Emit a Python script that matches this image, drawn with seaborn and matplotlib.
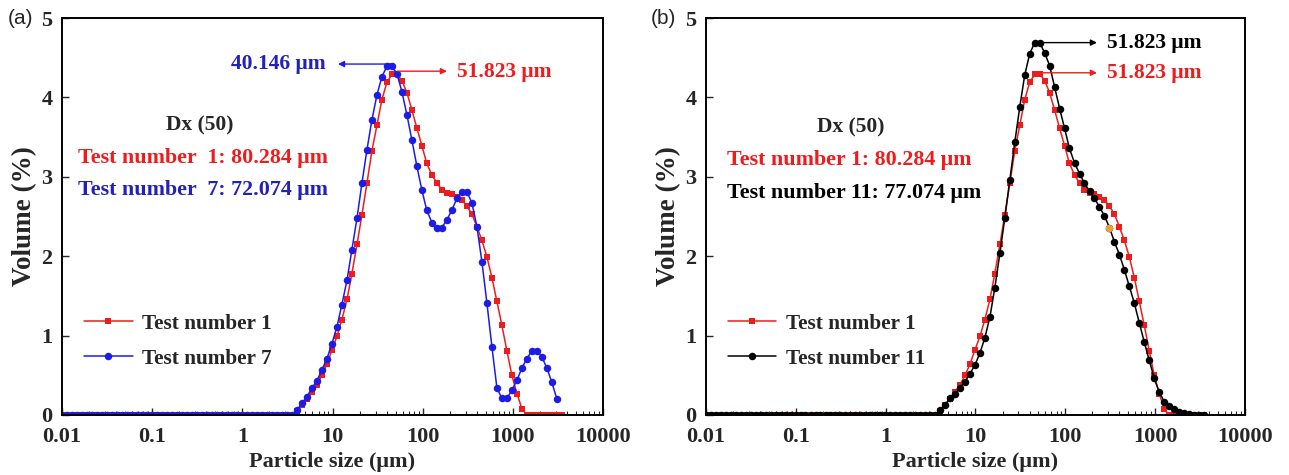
import numpy as np
import pandas as pd
import seaborn as sns
import matplotlib.pyplot as plt

# Particle size classes (um)
sizes = [0.0100, 0.0114, 0.0129, 0.0147, 0.0167, 0.0189, 0.0215, 0.0244, 0.0278, 0.0315,
         0.0358, 0.0407, 0.0463, 0.0526, 0.0597, 0.0679, 0.0771, 0.0876, 0.0995, 0.113,
         0.128, 0.146, 0.166, 0.188, 0.214, 0.243, 0.276, 0.314, 0.357, 0.405,
         0.460, 0.523, 0.594, 0.675, 0.767, 0.872, 0.991, 1.13, 1.28, 1.45,
         1.65, 1.88, 2.13, 2.42, 2.75, 3.12, 3.55, 4.03, 4.58, 5.21,
         5.92, 6.72, 7.64, 8.68, 9.86, 11.2, 12.7, 14.5, 16.4, 18.7,
         21.2, 24.1, 27.4, 31.1, 35.3, 40.1, 45.6, 51.8, 58.9, 66.9,
         76.0, 86.4, 98.1, 111, 127, 144, 163, 186, 211, 240,
         272, 310, 352, 400, 454, 516, 586, 666, 756, 859,
         976, 1110, 1260, 1430, 1630, 1850, 2100, 2390, 2710, 3080,
         3500]

# Volume (%) per class
test1 = [0, 0, 0, 0, 0, 0, 0, 0, 0, 0,
         0, 0, 0, 0, 0, 0, 0, 0, 0, 0,
         0, 0, 0, 0, 0, 0, 0, 0, 0, 0,
         0, 0, 0, 0, 0, 0, 0, 0, 0, 0,
         0, 0, 0, 0, 0, 0, 0, 0.05, 0.12, 0.20,
         0.29, 0.38, 0.50, 0.64, 0.82, 0.99, 1.20, 1.46, 1.78, 2.15,
         2.52, 2.92, 3.33, 3.65, 3.97, 4.19, 4.29, 4.30, 4.21, 4.06,
         3.84, 3.61, 3.39, 3.17, 3.02, 2.92, 2.84, 2.80, 2.78, 2.75,
         2.71, 2.63, 2.53, 2.37, 2.20, 1.99, 1.73, 1.43, 1.13, 0.81,
         0.50, 0.27, 0.08, 0, 0, 0, 0, 0, 0, 0,
         0]

test7 = [0, 0, 0, 0, 0, 0, 0, 0, 0, 0,
         0, 0, 0, 0, 0, 0, 0, 0, 0, 0,
         0, 0, 0, 0, 0, 0, 0, 0, 0, 0,
         0, 0, 0, 0, 0, 0, 0, 0, 0, 0,
         0, 0, 0, 0, 0, 0, 0, 0.06, 0.15, 0.23,
         0.34, 0.43, 0.57, 0.71, 0.90, 1.11, 1.39, 1.70, 2.08, 2.48,
         2.92, 3.34, 3.72, 4.03, 4.26, 4.39, 4.39, 4.30, 4.07, 3.78,
         3.46, 3.13, 2.83, 2.58, 2.42, 2.35, 2.36, 2.46, 2.58, 2.73,
         2.81, 2.81, 2.67, 2.37, 1.93, 1.41, 0.86, 0.34, 0.21, 0.21,
         0.31, 0.44, 0.59, 0.71, 0.81, 0.81, 0.73, 0.59, 0.41, 0.20]

test11 = [0, 0, 0, 0, 0, 0, 0, 0, 0, 0,
          0, 0, 0, 0, 0, 0, 0, 0, 0, 0,
          0, 0, 0, 0, 0, 0, 0, 0, 0, 0,
          0, 0, 0, 0, 0, 0, 0, 0, 0, 0,
          0, 0, 0, 0, 0, 0, 0, 0.06, 0.13, 0.21,
          0.27, 0.34, 0.42, 0.52, 0.63, 0.78, 0.97, 1.24, 1.60, 2.04,
          2.48, 2.96, 3.44, 3.88, 4.28, 4.55, 4.69, 4.69, 4.56, 4.40,
          4.13, 3.86, 3.61, 3.36, 3.17, 3.04, 2.92, 2.82, 2.73, 2.62,
          2.51, 2.36, 2.18, 2.02, 1.83, 1.62, 1.41, 1.16, 0.92, 0.69,
          0.46, 0.29, 0.17, 0.11, 0.07, 0.04, 0.02, 0.01, 0.005, 0,
          0]

tick_vals = [0.01, 0.1, 1, 10, 100, 1000, 10000]
tick_labels = ['0.01', '0.1', '1', '10', '100', '1000', '10000']

RED = '#ee1c1c'
BLUE = '#1c1ce6'
BLUE_TXT = '#2222b8'
BLACK = '#000000'

sns.set_style('ticks')
plt.rcParams['font.family'] = ['Liberation Serif', 'DejaVu Serif']
plt.rcParams['font.weight'] = 'bold'
plt.rcParams['axes.labelweight'] = 'bold'

fig = plt.figure(figsize=(12.89, 4.75), dpi=100)
ax1 = fig.add_axes([62 / 1289, 60 / 475, 541 / 1289, 397 / 475])
ax2 = fig.add_axes([706 / 1289, 60 / 475, 539 / 1289, 397 / 475])

# Panel (a)
sns.lineplot(x=sizes, y=test1, ax=ax1, color=RED, marker='s', markersize=4.8,
             markeredgewidth=0, linewidth=1.1, label='Test number 1')
sns.lineplot(x=sizes[:len(test7)], y=test7, ax=ax1, color=BLUE, marker='o',
             markersize=5.4, markeredgewidth=0, linewidth=1.1, label='Test number 7')

# Panel (b)
sns.lineplot(x=sizes, y=test1, ax=ax2, color=RED, marker='s', markersize=4.8,
             markeredgewidth=0, linewidth=1.1, label='Test number 1')
sns.lineplot(x=sizes, y=test11, ax=ax2, color=BLACK, marker='o', markersize=5.4,
             markeredgewidth=0, linewidth=1.1, label='Test number 11')
i310 = sizes.index(310)
ax2.plot(sizes[i310], test11[i310], 'o', color='#f0a030', markersize=5.4, markeredgewidth=0)

for ax in (ax1, ax2):
    ax.set_xscale('log')
    ax.set_xlim(0.01, 10000)
    ax.set_ylim(0, 5)
    ax.set_xticks(tick_vals)
    ax.set_xticklabels(tick_labels)
    ax.set_yticks([0, 1, 2, 3, 4, 5])
    ax.tick_params(which='major', direction='in', length=5, width=1, labelsize=16)
    ax.tick_params(axis='x', which='major', pad=9)
    ax.tick_params(axis='y', which='major', pad=7)
    ax.tick_params(which='minor', direction='in', length=3, width=0.8)
    ax.tick_params(axis='y', which='minor', left=False)
    for s in ax.spines.values():
        s.set_linewidth(1.4)
        s.set_color('black')
    ax.set_xlabel('Particle size (μm)', fontsize=16, labelpad=3)
    ax.set_ylabel('Volume (%)', fontsize=19.5, labelpad=3)
    ax.legend(loc='upper left', bbox_to_anchor=(0.04, 0.255), frameon=False,
              fontsize=15.3, handlelength=2.3, handletextpad=0.45, labelspacing=0.7,
              borderpad=0, borderaxespad=0)

# Annotations panel (a)
ax1.annotate('', xy=(11.5, 4.42), xytext=(47, 4.42),
             arrowprops=dict(arrowstyle='-|>', color=BLUE, lw=1, mutation_scale=9,
                             shrinkA=0, shrinkB=0))
ax1.text(8.3, 4.42, '40.146 μm', color=BLUE_TXT, fontsize=15.5, ha='right', va='center')
ax1.annotate('', xy=(186, 4.33), xytext=(53, 4.33),
             arrowprops=dict(arrowstyle='-|>', color=RED, lw=1, mutation_scale=9,
                             shrinkA=0, shrinkB=0))
ax1.text(240, 4.32, '51.823 μm', color=RED, fontsize=15.5, ha='left', va='center')
ax1.text(0.255, 0.73, 'Dx (50)', transform=ax1.transAxes, fontsize=15.5, ha='center', va='center')
ax1.text(0.03, 0.648, 'Test number  1: 80.284 μm', transform=ax1.transAxes, fontsize=15.8,
         color=RED, ha='left', va='center')
ax1.text(0.03, 0.566, 'Test number  7: 72.074 μm', transform=ax1.transAxes, fontsize=15.8,
         color=BLUE_TXT, ha='left', va='center')

# Annotations panel (b)
ax2.annotate('', xy=(225, 4.69), xytext=(52, 4.69),
             arrowprops=dict(arrowstyle='-|>', color=BLACK, lw=1, mutation_scale=9,
                             shrinkA=0, shrinkB=0))
ax2.text(290, 4.69, '51.823 μm', color=BLACK, fontsize=15.5, ha='left', va='center')
ax2.annotate('', xy=(225, 4.31), xytext=(52, 4.31),
             arrowprops=dict(arrowstyle='-|>', color=RED, lw=1, mutation_scale=9,
                             shrinkA=0, shrinkB=0))
ax2.text(290, 4.31, '51.823 μm', color=RED, fontsize=15.5, ha='left', va='center')
ax2.text(0.269, 0.725, 'Dx (50)', transform=ax2.transAxes, fontsize=15.5, ha='center', va='center')
ax2.text(0.039, 0.643, 'Test number 1: 80.284 μm', transform=ax2.transAxes, fontsize=15.8,
         color=RED, ha='left', va='center')
ax2.text(0.039, 0.56, 'Test number 11: 77.074 μm', transform=ax2.transAxes, fontsize=15.8,
         color=BLACK, ha='left', va='center')

fig.text(8 / 1289, 1 - 18 / 475, '(a)', fontsize=15, fontweight='normal',
         family=['Liberation Sans', 'DejaVu Sans'], va='center', ha='left')
fig.text(651 / 1289, 1 - 18 / 475, '(b)', fontsize=15, fontweight='normal',
         family=['Liberation Sans', 'DejaVu Sans'], va='center', ha='left')

fig.savefig('out.png', dpi=100)
